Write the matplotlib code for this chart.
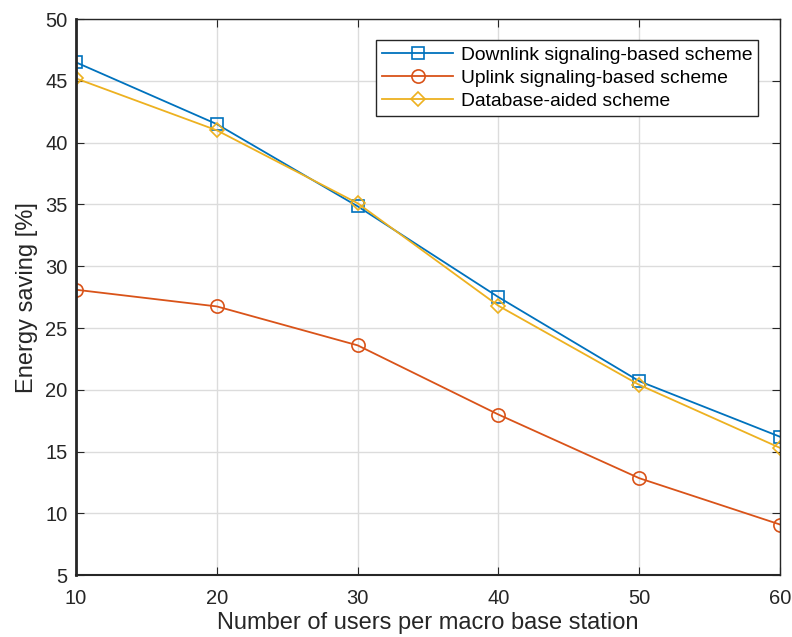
import numpy as np
import matplotlib.pyplot as plt

plt.rcParams['font.family'] = ['Liberation Sans', 'DejaVu Sans']

# data
users = [10, 20, 30, 40, 50, 60]
downlink = [46.5, 41.5, 34.85, 27.5, 20.7, 16.2]
uplink = [28.1, 26.75, 23.6, 18.0, 12.85, 9.1]
database = [45.2, 41.0, 35.1, 26.8, 20.4, 15.3]

labels = ['Downlink signaling-based scheme',
          'Uplink signaling-based scheme',
          'Database-aided scheme']

fig = plt.figure(figsize=(7.92, 6.37), dpi=100)
ax = fig.add_axes([0.096, 0.097, 0.889, 0.873])

ax.plot(users, downlink, color='#0072BD', marker='s', mfc='none', ms=8, lw=1.3, mew=1.2, label=labels[0])
ax.plot(users, uplink, color='#D95319', marker='o', mfc='none', ms=9.5, lw=1.3, mew=1.2, label=labels[1])
ax.plot(users, database, color='#EDB120', marker='D', mfc='none', ms=7.5, lw=1.3, mew=1.2, label=labels[2])

ax.set_xlim(10, 60)
ax.set_ylim(5, 50)
ax.set_xticks(np.arange(10, 61, 10))
ax.set_yticks(np.arange(5, 51, 5))
ax.grid(True, color='#dcdcdc', lw=1)
ax.set_axisbelow(True)
ax.tick_params(direction='in', top=True, right=True, labelsize=14.5, colors='#262626', length=6)
ax.tick_params(axis='x', pad=10)
ax.tick_params(axis='y', pad=6)
for s in ax.spines.values():
    s.set_color('#262626')
    s.set_linewidth(1.0)
ax.spines['left'].set_linewidth(2)
ax.spines['bottom'].set_linewidth(1.5)

ax.set_xlabel('Number of users per macro base station', fontsize=17, color='#262626', labelpad=3)
ax.set_ylabel('Energy saving [%]', fontsize=17, color='#262626', labelpad=5)

leg = ax.legend(loc='upper right', bbox_to_anchor=(0.969, 0.962), fontsize=13.9,
                fancybox=False, framealpha=1, edgecolor='#262626', borderpad=0.3,
                handlelength=3.7, handletextpad=0.4, labelspacing=0.3, borderaxespad=0)
leg.get_frame().set_linewidth(1.0)

fig.savefig('out.png', dpi=100)
